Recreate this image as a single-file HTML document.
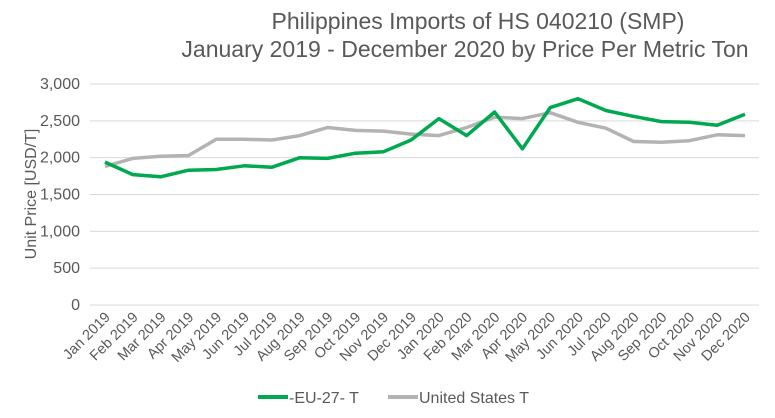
<!DOCTYPE html>
<html><head><meta charset="utf-8"><style>
body{margin:0;background:#fff;}
svg{display:block;font-family:"Liberation Sans",Arial,sans-serif;}
</style></head><body>
<svg id="c" width="775" height="418" xmlns="http://www.w3.org/2000/svg">
<text x="478" y="29" text-anchor="middle" font-size="23" fill="#595959">Philippines Imports of HS 040210 (SMP)</text>
<text x="465" y="57" text-anchor="middle" font-size="23" fill="#595959">January 2019 - December 2020 by Price Per Metric Ton</text>
<text transform="translate(36,194) rotate(-90)" text-anchor="middle" font-size="16" fill="#595959">Unit Price [USD/T]</text>
<g id="g"></g>
<line x1="258" y1="397" x2="288" y2="397" stroke="#00a84f" stroke-width="4"/>
<text x="289" y="403" font-size="16" fill="#595959">-EU-27- T</text>
<line x1="388" y1="397" x2="418" y2="397" stroke="#b3b3b3" stroke-width="4"/>
<text x="419" y="403" font-size="16" fill="#595959">United States T</text>
</svg>
<script>
var g=document.getElementById('g'),s='';
function Y(v){return 305-v*221/3000;}
function X(i){return 105+i*640/23;}
for(var k=0;k<=6;k++){var y=Y(k*500);s+='<line x1="90" x2="759" y1="'+y+'" y2="'+y+'" stroke="#d9d9d9" stroke-width="1"/>';
s+='<text x="80" y="'+(y+5)+'" text-anchor="end" font-size="16" fill="#595959">'+(k*500).toLocaleString('en-US')+'</text>';}
var m=['Jan','Feb','Mar','Apr','May','Jun','Jul','Aug','Sep','Oct','Nov','Dec'];
for(var i=0;i<24;i++){var x=X(i)+6;s+='<text transform="translate('+x+',318) rotate(-45)" text-anchor="end" font-size="14.5" fill="#595959">'+m[i%12]+' '+(i<12?2019:2020)+'</text>';}
var eu=[1940,1770,1740,1830,1840,1890,1870,2000,1990,2060,2080,2240,2530,2300,2620,2120,2680,2800,2640,2560,2490,2480,2440,2590];
var us=[1880,1990,2020,2030,2250,2250,2240,2300,2410,2370,2360,2320,2300,2410,2550,2530,2610,2480,2400,2220,2210,2230,2310,2300];
function p(d){return d.map(function(v,i){return X(i).toFixed(1)+','+Y(v).toFixed(1)}).join(' ');}
s+='<polyline points="'+p(us)+'" fill="none" stroke="#b3b3b3" stroke-width="3.5" stroke-linejoin="round"/>';
s+='<polyline points="'+p(eu)+'" fill="none" stroke="#00a84f" stroke-width="3.5" stroke-linejoin="round"/>';
g.innerHTML=s;
</script>
</body></html>
